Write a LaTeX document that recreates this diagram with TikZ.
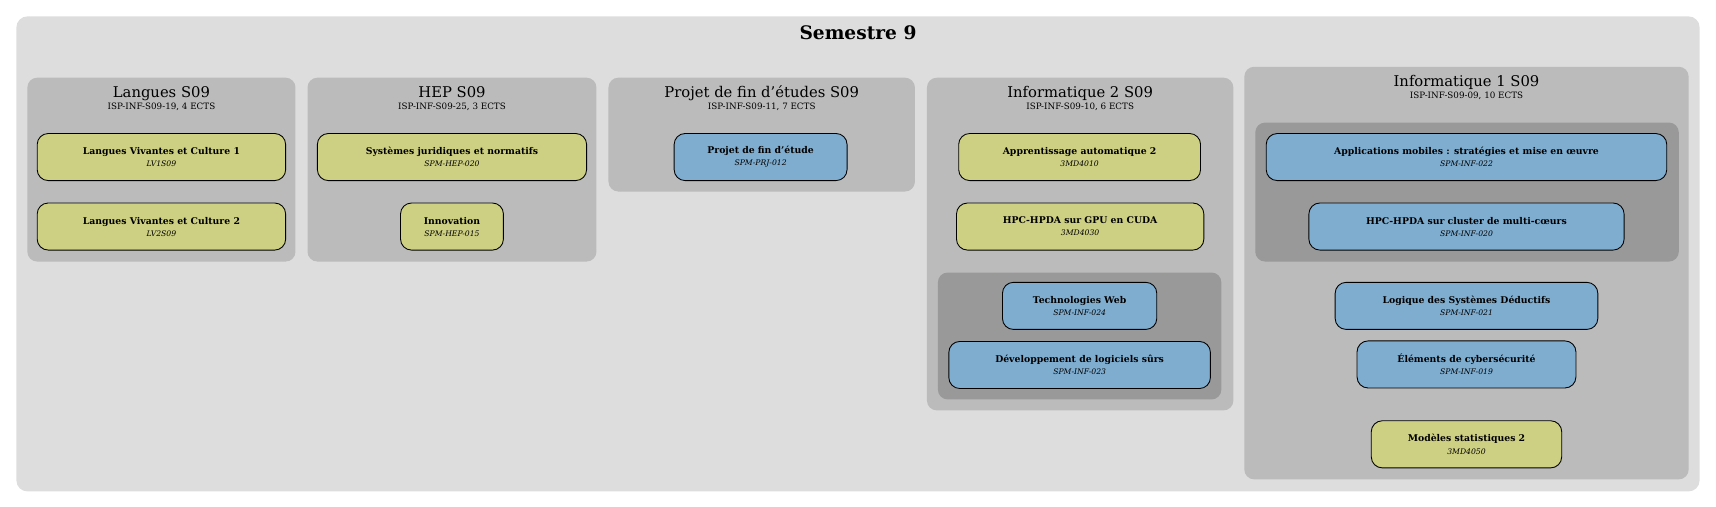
\documentclass[tikz,border=0pt]{standalone}
\usepackage{fontspec}
\setmainfont{DejaVu Serif}
\definecolor{outerbg}{HTML}{DDDDDD}
\definecolor{clbg}{HTML}{BBBBBB}
\definecolor{inbg}{HTML}{999999}
\definecolor{ycol}{HTML}{CDD082}
\definecolor{bcol}{HTML}{7FADCF}
\tikzset{
  cl/.style={fill=clbg, rounded corners=9pt},
  icl/.style={fill=inbg, rounded corners=9pt},
  course/.style={draw=black, line width=0.8pt, rounded corners=10pt, inner sep=0pt, align=center},
  yc/.style={course, fill=ycol},
  bc/.style={course, fill=bcol},
  ctitle/.style={align=center, inner sep=0pt},
}
\newcommand{\crs}[2]{{\fontsize{8.5}{9.5}\selectfont\bfseries #1}\\[-1pt]{\fontsize{7}{8}\selectfont\itshape #2}}
\newcommand{\ctl}[2]{{\fontsize{13.5}{14}\selectfont #1}\\[-1pt]{\fontsize{8}{9}\selectfont #2}}
\begin{document}
\begin{tikzpicture}[x=1pt,y=-1pt]
\useasboundingbox (0,0) rectangle (1568,463);
\fill[outerbg, rounded corners=10pt] (15,15) rectangle (1553,449);
\node[font=\fontsize{17}{18}\selectfont\bfseries] (title) at (784,30) {Semestre 9};
% Langues
\fill[cl] (25,71) rectangle (270,239);
\node[ctitle] (tl) at (147.5,90) {\ctl{Langues S09}{ISP-INF-S09-19, 4 ECTS}};
\node[yc, minimum width=227pt, minimum height=43pt] (lv1) at (147.5,143.5) {\crs{Langues Vivantes et Culture 1}{LV1S09}};
\node[yc, minimum width=227pt, minimum height=43pt] (lv2) at (147.5,207) {\crs{Langues Vivantes et Culture 2}{LV2S09}};
% HEP
\fill[cl] (281,71) rectangle (545,239);
\node[ctitle] (th) at (413,90) {\ctl{HEP S09}{ISP-INF-S09-25, 3 ECTS}};
\node[yc, minimum width=246pt, minimum height=43pt] (sj) at (413,143.5) {\crs{Systèmes juridiques et normatifs}{SPM-HEP-020}};
\node[yc, minimum width=94pt, minimum height=43pt] (inn) at (413,207) {\crs{Innovation}{SPM-HEP-015}};
% Projet
\fill[cl] (556,71) rectangle (836,175);
\node[ctitle] (tp) at (696,90) {\ctl{Projet de fin d'études S09}{ISP-INF-S09-11, 7 ECTS}};
\node[bc, minimum width=158pt, minimum height=43pt] (pfe) at (695,143.5) {\crs{Projet de fin d'étude}{SPM-PRJ-012}};
% Info 2
\fill[cl] (847,71) rectangle (1127,375);
\node[ctitle] (ti2) at (987,90) {\ctl{Informatique 2 S09}{ISP-INF-S09-10, 6 ECTS}};
\node[yc, minimum width=221pt, minimum height=43pt] (aa) at (986.5,143.5) {\crs{Apprentissage automatique 2}{3MD4010}};
\node[yc, minimum width=226pt, minimum height=43pt] (gpu) at (987,207) {\crs{HPC-HPDA sur GPU en CUDA}{3MD4030}};
\fill[icl] (857,249) rectangle (1116,365);
\node[bc, minimum width=141pt, minimum height=43pt] (web) at (986.5,279.5) {\crs{Technologies Web}{SPM-INF-024}};
\node[bc, minimum width=239pt, minimum height=43pt] (dev) at (986.5,333.5) {\crs{Développement de logiciels sûrs}{SPM-INF-023}};
% Info 1
\fill[cl] (1137,61) rectangle (1543,438);
\node[ctitle] (ti1) at (1340,80) {\ctl{Informatique 1 S09}{ISP-INF-S09-09, 10 ECTS}};
\fill[icl] (1147,112) rectangle (1534,239);
\node[bc, minimum width=366pt, minimum height=43pt] (apps) at (1340,143.5) {\crs{Applications mobiles : stratégies et mise en œuvre}{SPM-INF-022}};
\node[bc, minimum width=288pt, minimum height=43pt] (hpcc) at (1340,207) {\crs{HPC-HPDA sur cluster de multi-cœurs}{SPM-INF-020}};
\node[bc, minimum width=240pt, minimum height=43pt] (lsd) at (1340,279.5) {\crs{Logique des Systèmes Déductifs}{SPM-INF-021}};
\node[bc, minimum width=200pt, minimum height=43pt] (cyb) at (1340,333) {\crs{Éléments de cybersécurité}{SPM-INF-019}};
\node[yc, minimum width=174pt, minimum height=43pt] (ms) at (1340,406) {\crs{Modèles statistiques 2}{3MD4050}};
\end{tikzpicture}
\end{document}
